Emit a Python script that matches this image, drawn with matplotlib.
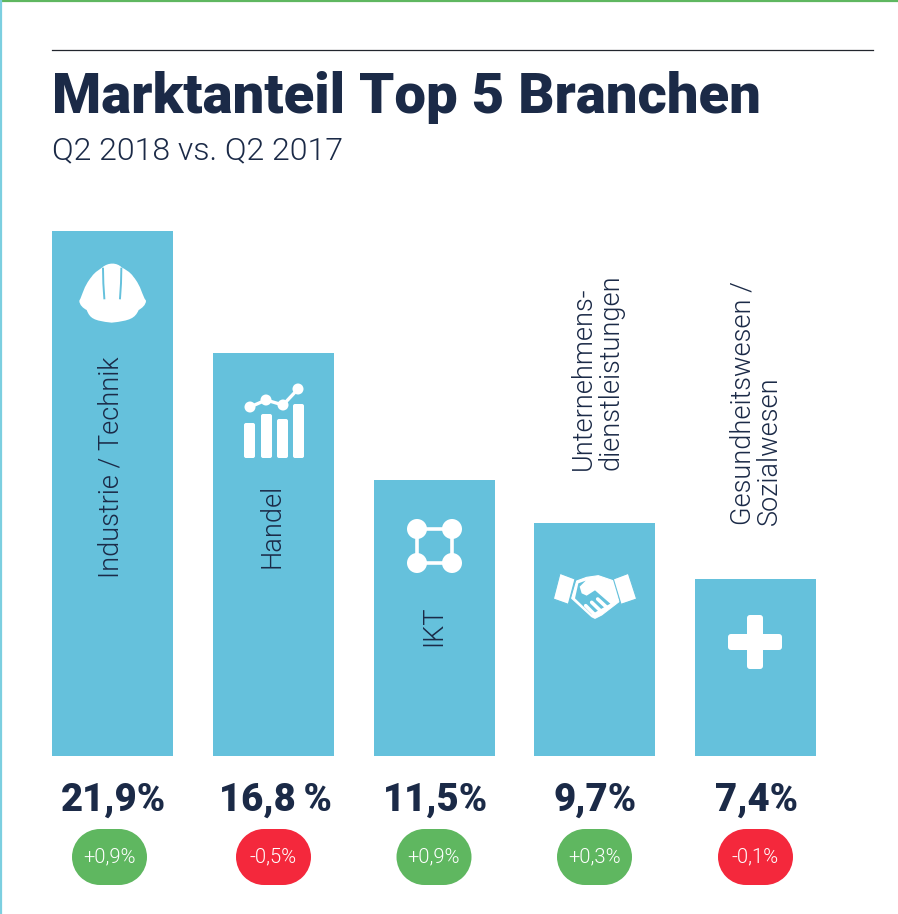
"""
Marktanteil Top 5 Branchen, bars with icons and change pills.
"""
import numpy as np
import matplotlib
matplotlib.use('Agg')
import matplotlib.pyplot as plt
from matplotlib.patches import Circle, FancyBboxPatch, PathPatch, Polygon, Rectangle
from matplotlib.path import Path

title = 'Marktanteil Top 5 Branchen'
subtitle = 'Q2 2018 vs. Q2 2017'
branches = ['Industrie / Technik', 'Handel', 'IKT',
            'Unternehmens-\ndienstleistungen', 'Gesundheitswesen /\nSozialwesen']
shares = [21.9, 16.8, 11.5, 9.7, 7.4]
share_labels = ['21,9%', '16,8\u2009%', '11,5%', '9,7%', '7,4%']
changes = [0.9, -0.5, 0.9, 0.3, -0.1]
change_labels = ['+0,9%', '-0,5%', '+0,9%', '+0,3%', '-0,1%']

DARK = '#1b2a47'
BLUE = '#65c1dc'
GREEN = '#5fb760'
RED = '#f4283c'
FONT = ['Roboto', 'DejaVu Sans']
W = 898.0
H = 914.0


def pill(ax, xc, yc, color, w=75, h=56):
    r = h/2.0
    ax.add_patch(Rectangle((xc-w/2+r, yc-r), w-h, h, fc=color, ec='none'))
    ax.add_patch(Circle((xc-w/2+r, yc), r, fc=color, ec='none'))
    ax.add_patch(Circle((xc+w/2-r, yc), r, fc=color, ec='none'))


def helmet(ax):
    def pt(zx, zy):
        return (40+zx/3.0, 230+zy/3.0)
    outline = [(118, 212),
               (128, 195), (130, 170), (155, 140),
               (165, 125), (180, 118), (187, 112),
               (205, 97), (230, 97), (245, 112),
               (255, 118), (270, 125), (280, 140),
               (305, 170), (305, 195), (318, 212),
               (318, 225), (305, 235), (296, 240),
               (285, 265), (270, 272), (215, 278),
               (160, 272), (150, 265), (140, 240),
               (130, 235), (118, 225), (118, 212)]
    codes = [Path.MOVETO] + [Path.CURVE4]*27
    ax.add_patch(PathPatch(Path([pt(*p) for p in outline], codes), fc='white', ec='none'))
    ax.plot(*zip(pt(189, 116), pt(190, 160), pt(193, 205)), color=BLUE, lw=1.4)
    ax.plot(*zip(pt(244, 116), pt(243, 160), pt(240, 205)), color=BLUE, lw=1.4)


def chart_icon(ax):
    xs = [244, 261, 277, 293]
    tops = [423, 414, 419, 404]
    for x, t in zip(xs, tops):
        ax.add_patch(FancyBboxPatch((x+2, t+2), 7, 458-t-4, boxstyle='round,pad=2',
                                    fc='white', ec='none'))
    cx = [250, 266, 283, 298]
    cy = [407, 400, 405, 389]
    ax.plot(cx, cy, color='white', lw=2.4)
    for x, y in zip(cx, cy):
        ax.add_patch(Circle((x, y), 5.5, fc='white', ec='none'))


def network_icon(ax):
    cx = [417, 452, 452, 417, 417]
    cy = [529, 529, 563, 563, 529]
    ax.plot(cx, cy, color='white', lw=2.6)
    for x, y in zip(cx[:4], cy[:4]):
        ax.add_patch(Circle((x, y), 10, fc='white', ec='none'))


def handshake(ax):
    def pts(*zs):
        return [(545+zx/3.0, 565+zy/3.0) for zx, zy in zs]
    hands = pts((95, 48), (125, 37), (160, 32), (207, 48), (222, 110),
                (170, 150), (150, 160), (140, 155), (80, 100))
    palm = pts((100, 55), (122, 47), (104, 65), (110, 85), (125, 92), (150, 76),
               (196, 116), (140, 148), (90, 100))
    ax.add_patch(Polygon(hands, closed=True, fc='white', ec='white', lw=0.8, joinstyle='round'))
    ax.add_patch(Polygon(palm, closed=True, fc=BLUE, ec='none'))
    # fingers
    for a, b in [((122, 122), (146, 146)), ((140, 112), (165, 136)), ((158, 102), (184, 126))]:
        ax.plot(*zip(*pts(a, b)), color='white', lw=2.6, solid_capstyle='round')
    # cuffs, over the hands with a thin gap
    for cuff in (pts((45, 25), (90, 42), (70, 118), (25, 102)),
                 pts((205, 42), (250, 25), (275, 102), (228, 118))):
        ax.add_patch(Polygon(cuff, closed=True, fc='white', ec=BLUE, lw=0.8))


def cross(ax):
    ax.add_patch(FancyBboxPatch((750, 618), 10, 48, boxstyle='round,pad=3', fc='white', ec='none'))
    ax.add_patch(FancyBboxPatch((731, 637), 48, 10, boxstyle='round,pad=3', fc='white', ec='none'))


fig = plt.figure(figsize=(W/100, H/100), dpi=100, facecolor='white')

# bar axes: 0 sits at y=756 px, the tallest bar ends at y=231 px
ax = fig.add_axes([52/W, (H-756)/H, (816-52)/W, 525/H])
ax.bar(np.arange(len(shares)), shares, width=0.7527, color=BLUE)
ax.set_xlim(-0.3764, 4.376)
ax.set_ylim(0, 21.9)
ax.axis('off')

# overlay in pixel coordinates for everything else
ov = fig.add_axes([0, 0, 1, 1])
ov.set_xlim(0, W)
ov.set_ylim(H, 0)
ov.axis('off')
ov.patch.set_alpha(0)

ov.plot([0, W], [1, 1], color=GREEN, lw=1.6)
ov.plot([1, 1], [0, H], color='#7ccfe0', lw=1.6)
ov.plot([52, 873], [49.5, 49.5], color='#22262e', lw=0.9)

ov.text(52, 113, title, fontsize=40.5, fontweight=900, family=FONT, color=DARK, va='baseline')
ov.text(52, 159, subtitle, fontsize=23, fontweight=300, family=FONT, color=DARK, va='baseline')

centers = [113.5, 275, 435.5, 595.5, 756.5]
pill_x = [109.5, 273.5, 434, 594.5, 755.5]
label_x = [111.5, 272.5, 434, 597, 756]
label_y = [578, 568, 646, 470, 525]
for i, name in enumerate(branches):
    ov.text(label_x[i], label_y[i], name, rotation=90, ha='center', va='bottom', fontsize=19.5,
            fontweight=300, family=FONT, color=DARK, linespacing=1.0, ma='left')
    ov.text(centers[i], 800, share_labels[i], ha='center', va='center', fontsize=27.5,
            fontweight=900, family=FONT, color=DARK)
    pill(ov, pill_x[i], 857, GREEN if changes[i] > 0 else RED)
    ov.text(pill_x[i], 857, change_labels[i], ha='center', va='center', fontsize=14.5,
            fontweight=300, family=FONT, color='white')

helmet(ov)
chart_icon(ov)
network_icon(ov)
handshake(ov)
cross(ov)

fig.savefig('out.png', dpi=100, facecolor='white')
